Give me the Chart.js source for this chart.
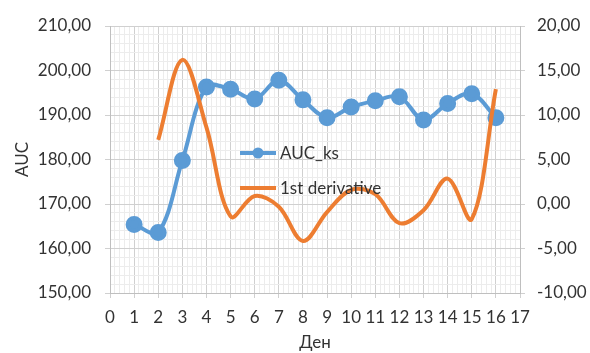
<!DOCTYPE html>
<html>
<head>
<meta charset="utf-8">
<script src="https://cdn.jsdelivr.net/npm/chart.js@4.4.1/dist/chart.umd.min.js"></script>
<style>
  html, body { margin: 0; padding: 0; background: #ffffff; }
  #wrap { width: 590px; height: 353px; }
</style>
</head>
<body>
<div id="wrap"><canvas id="c" width="590" height="353"></canvas></div>
<script>
// Days and measured AUC per day
const days = [1, 2, 3, 4, 5, 6, 7, 8, 9, 10, 11, 12, 13, 14, 15, 16];
const aucKs = [165.4, 163.6, 179.8, 196.3, 195.8, 193.6, 197.8, 193.4, 189.4, 191.8, 193.2, 194.1, 188.9, 192.6, 194.8, 189.4];

// First derivative, available from day 2 to day 16
const derivDays = [2, 3, 4, 5, 6, 7, 8, 9, 10, 11, 12, 13, 14, 15, 16];
const derivative = [7.2, 16.2, 8.6, -1.4, 0.9, -0.3, -4.15, -0.9, 1.6, 1.1, -2.15, -0.7, 2.85, -1.7, 12.9];

const seriesNames = ['AUC_ks', '1st derivative'];
const xTitle = 'Ден';
const yTitle = 'AUC';

const BLUE = '#5b9bd5';
const ORANGE = '#ed7d31';
const TEXT = '#333333';
const GRID_MAJOR = '#d0d0d0';
const GRID_MINOR = '#ececec';
const FONT = 'Lato, "Open Sans", sans-serif';

const fmt = v => v.toFixed(2).replace('.', ',');
const isWhole = (v, step) => Math.abs(v / step - Math.round(v / step)) < 1e-6;

Chart.defaults.font.family = FONT;
Chart.defaults.font.size = 17;
Chart.defaults.color = TEXT;

// Legend drawn inside the plot area, over the lines
const innerLegend = {
  id: 'innerLegend',
  afterDatasetsDraw(chart) {
    const ctx = chart.ctx;
    const a = chart.chartArea;
    const x0 = a.left + 130;
    const rows = [a.top + 127, a.top + 162];
    ctx.save();
    ctx.font = '17px ' + FONT;
    ctx.textBaseline = 'middle';
    chart.data.datasets.forEach((ds, i) => {
      const y = rows[i];
      ctx.strokeStyle = ds.borderColor;
      ctx.lineWidth = 4;
      ctx.lineCap = 'butt';
      ctx.beginPath();
      ctx.moveTo(x0, y);
      ctx.lineTo(x0 + 36, y);
      ctx.stroke();
      if (ds.pointRadius > 0) {
        ctx.fillStyle = ds.pointBackgroundColor;
        ctx.beginPath();
        ctx.arc(x0 + 18, y, 5.5, 0, Math.PI * 2);
        ctx.fill();
      }
      ctx.fillStyle = TEXT;
      ctx.fillText(ds.label, x0 + 40, y + 1);
    });
    ctx.restore();
  }
};

new Chart(document.getElementById('c'), {
  type: 'line',
  data: {
    datasets: [
      {
        label: seriesNames[0],
        data: days.map((d, i) => ({ x: d, y: aucKs[i] })),
        yAxisID: 'y',
        borderColor: BLUE,
        backgroundColor: BLUE,
        pointBackgroundColor: BLUE,
        pointBorderColor: BLUE,
        pointRadius: 6.5,
        borderWidth: 4,
        tension: 0.35,
        order: 1
      },
      {
        label: seriesNames[1],
        data: derivDays.map((d, i) => ({ x: d, y: derivative[i] })),
        yAxisID: 'y1',
        borderColor: ORANGE,
        backgroundColor: ORANGE,
        pointBackgroundColor: ORANGE,
        pointRadius: 0,
        borderWidth: 4,
        tension: 0.35,
        order: 0
      }
    ]
  },
  options: {
    responsive: false,
    animation: false,
    devicePixelRatio: 1,
    layout: { padding: { top: 26, bottom: 0, left: 0, right: 0 } },
    plugins: { legend: { display: false }, tooltip: { enabled: false } },
    scales: {
      x: {
        type: 'linear',
        min: 0,
        max: 17,
        afterBuildTicks(scale) {
          const t = [];
          for (let i = 0; i <= 85; i++) t.push({ value: i / 5 });
          scale.ticks = t;
        },
        afterFit(scale) { scale.height = 60; },
        ticks: {
          autoSkip: false,
          maxRotation: 0,
          padding: 9,
          callback: v => isWhole(v, 1) ? String(Math.round(v)) : ''
        },
        grid: {
          color: c => isWhole(c.tick.value, 1) ? GRID_MAJOR : GRID_MINOR,
          tickColor: c => isWhole(c.tick.value, 1) ? GRID_MAJOR : 'rgba(0,0,0,0)',
          tickLength: 5
        },
        border: { color: '#bfbfbf' },
        title: { display: true, text: xTitle, padding: { top: 0, bottom: 0 } }
      },
      y: {
        position: 'left',
        min: 150,
        max: 210,
        afterBuildTicks(scale) {
          const t = [];
          for (let v = 150; v <= 210; v += 2) t.push({ value: v });
          scale.ticks = t;
        },
        afterFit(scale) { scale.width = 110; },
        ticks: {
          autoSkip: false,
          padding: 14,
          callback: v => isWhole(v, 10) ? fmt(v) : ''
        },
        grid: {
          color: c => isWhole(c.tick.value, 10) ? GRID_MAJOR : GRID_MINOR,
          tickColor: c => isWhole(c.tick.value, 10) ? GRID_MAJOR : 'rgba(0,0,0,0)',
          tickLength: 5
        },
        border: { color: '#bfbfbf' },
        title: { display: true, text: yTitle, padding: { top: 12, bottom: 0 } }
      },
      y1: {
        position: 'right',
        min: -10,
        max: 20,
        afterFit(scale) { scale.width = 70; },
        ticks: { stepSize: 5, padding: 12, callback: v => fmt(v) },
        grid: { drawOnChartArea: false, color: GRID_MAJOR, tickLength: 5 },
        border: { color: '#bfbfbf' }
      }
    }
  },
  plugins: [innerLegend]
});
</script>
</body>
</html>
